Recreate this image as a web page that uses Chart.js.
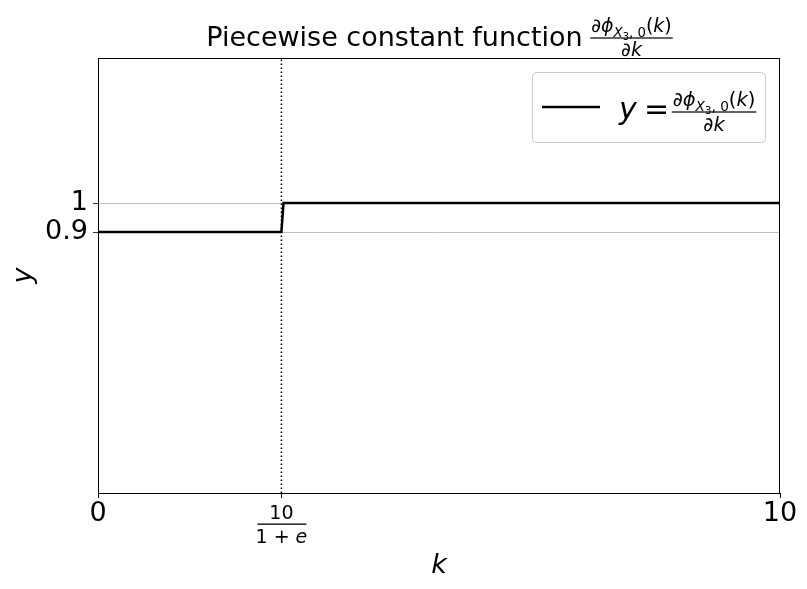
<!DOCTYPE html>
<html>
<head>
<meta charset="utf-8">
<script src="https://cdn.jsdelivr.net/npm/chart.js@4.4.0/dist/chart.umd.min.js"></script>
<style>
  html, body { margin: 0; padding: 0; background: #fff; }
  #wrap { width: 807px; height: 589px; }
</style>
</head>
<body>
<div id="wrap"><canvas id="c" width="807" height="589"></canvas></div>
<script>
// data
const kValues = [0, 2.689, 2.72, 10];
const yValues = [0.9, 0.9, 1, 1];
const kCut = 10 / (1 + Math.E);
const markerK = [kCut, kCut];
const markerY = [0, 1.5];
const xTicks = [0, kCut, 10];
const xTickLabels = ['0', '', '10'];
const yTicks = [0.9, 1];
const yTickLabels = ['0.9', '1'];

const FONT = 'DejaVu Sans';

// draws  ∂ϕ_{X3, 0}(k) / ∂k  centred at cx, with the bar at yBar
function drawDeriv(ctx, cx, yBar, size) {
  const sub = size * 0.7;
  ctx.save();
  ctx.fillStyle = '#000';
  ctx.textBaseline = 'alphabetic';
  ctx.textAlign = 'left';
  const partsNum = [
    { t: '\u2202', f: size + 'px "' + FONT + '"', dy: 0 },
    { t: '\u03D5', f: 'italic ' + size + 'px "' + FONT + '"', dy: 0 },
    { t: 'X', f: 'italic ' + sub + 'px "' + FONT + '"', dy: size * 0.25 },
    { t: '3', f: (sub * 0.75) + 'px "' + FONT + '"', dy: size * 0.4 },
    { t: ', 0', f: sub + 'px "' + FONT + '"', dy: size * 0.25 },
    { t: '(', f: size + 'px "' + FONT + '"', dy: 0 },
    { t: 'k', f: 'italic ' + size + 'px "' + FONT + '"', dy: 0 },
    { t: ')', f: size + 'px "' + FONT + '"', dy: 0 }
  ];
  let w = 0;
  partsNum.forEach(p => { ctx.font = p.f; p.w = ctx.measureText(p.t).width; w += p.w; });
  let x = cx - w / 2;
  const numBase = yBar - size * 0.3;
  partsNum.forEach(p => { ctx.font = p.f; ctx.fillText(p.t, x, numBase + p.dy); x += p.w; });
  ctx.fillRect(cx - w / 2 - 1, yBar - 0.6, w + 2, 1.2);
  // denominator
  ctx.font = size + 'px "' + FONT + '"';
  const wd1 = ctx.measureText('\u2202').width;
  ctx.font = 'italic ' + size + 'px "' + FONT + '"';
  const wd2 = ctx.measureText('k').width;
  const dx = cx - (wd1 + wd2) / 2;
  const denBase = yBar + size * 0.95;
  ctx.font = size + 'px "' + FONT + '"';
  ctx.fillText('\u2202', dx, denBase);
  ctx.font = 'italic ' + size + 'px "' + FONT + '"';
  ctx.fillText('k', dx + wd1, denBase);
  ctx.restore();
  return w;
}

function measureDeriv(ctx, size) {
  const sub = size * 0.7;
  let w = 0;
  [['\u2202', size + 'px'], ['\u03D5', 'italic ' + size + 'px'], ['X', 'italic ' + sub + 'px'],
   ['3', (sub * 0.75) + 'px'], [', 0', sub + 'px'], ['(', size + 'px'], ['k', 'italic ' + size + 'px'],
   [')', size + 'px']].forEach(p => { ctx.font = p[1] + ' "' + FONT + '"'; w += ctx.measureText(p[0]).width; });
  return w;
}

const decor = {
  id: 'decor',
  afterDraw(chart) {
    const ctx = chart.ctx;
    const a = chart.chartArea;
    ctx.save();
    // frame
    ctx.strokeStyle = '#000';
    ctx.lineWidth = 1;
    ctx.strokeRect(a.left + 0.5, a.top + 0.5, a.right - a.left - 1, a.bottom - a.top);

    // title
    ctx.fillStyle = '#000';
    ctx.font = '27px "' + FONT + '"';
    ctx.textBaseline = 'alphabetic';
    ctx.textAlign = 'left';
    const tt = 'Piecewise constant function ';
    const tw = ctx.measureText(tt).width;
    const fw = measureDeriv(ctx, 19);
    const tx = (a.left + a.right) / 2 - (tw + fw) / 2;
    ctx.font = '27px "' + FONT + '"';
    ctx.fillText(tt, tx, 46);
    drawDeriv(ctx, tx + tw + fw / 2, 38, 19);

    // axis labels
    ctx.font = 'italic 27px "' + FONT + '"';
    ctx.textAlign = 'center';
    ctx.fillText('k', (a.left + a.right) / 2, 573);
    ctx.save();
    ctx.translate(31, (a.top + a.bottom) / 2);
    ctx.rotate(-Math.PI / 2);
    ctx.fillText('y', 0, 0);
    ctx.restore();

    // fraction tick label 10/(1+e)
    const xs = chart.scales.x.getPixelForValue(kCut);
    ctx.font = '19px "' + FONT + '"';
    ctx.textAlign = 'center';
    ctx.fillText('10', xs, 519);
    ctx.fillRect(xs - 24, 523.5, 49, 1.3);
    ctx.textAlign = 'left';
    const p1 = '1 + ';
    ctx.font = '19px "' + FONT + '"';
    const w1 = ctx.measureText(p1).width;
    ctx.font = 'italic 19px "' + FONT + '"';
    const w2 = ctx.measureText('e').width;
    ctx.font = '19px "' + FONT + '"';
    ctx.fillText(p1, xs - (w1 + w2) / 2, 543);
    ctx.font = 'italic 19px "' + FONT + '"';
    ctx.fillText('e', xs - (w1 + w2) / 2 + w1, 543);

    // legend
    const lx = 532.5, ly = 72.5, lw = 233, lh = 70, r = 4;
    ctx.beginPath();
    ctx.moveTo(lx + r, ly);
    ctx.arcTo(lx + lw, ly, lx + lw, ly + lh, r);
    ctx.arcTo(lx + lw, ly + lh, lx, ly + lh, r);
    ctx.arcTo(lx, ly + lh, lx, ly, r);
    ctx.arcTo(lx, ly, lx + lw, ly, r);
    ctx.closePath();
    ctx.fillStyle = 'rgba(255,255,255,0.8)';
    ctx.fill();
    ctx.strokeStyle = '#cccccc';
    ctx.lineWidth = 1;
    ctx.stroke();
    ctx.beginPath();
    ctx.moveTo(542, 107);
    ctx.lineTo(600, 107);
    ctx.strokeStyle = '#000';
    ctx.lineWidth = 2.5;
    ctx.stroke();
    ctx.fillStyle = '#000';
    ctx.font = 'italic 30px "' + FONT + '"';
    ctx.textAlign = 'left';
    ctx.fillText('y', 619, 119);
    ctx.font = '30px "' + FONT + '"';
    ctx.fillText('=', 644, 119);
    drawDeriv(ctx, 714, 112, 19.5);
    ctx.restore();
  }
};

new Chart(document.getElementById('c'), {
  type: 'line',
  data: {
    datasets: [
      {
        label: 'y',
        data: kValues.map((k, i) => ({ x: k, y: yValues[i] })),
        borderColor: '#000',
        borderWidth: 2.5,
        pointRadius: 0,
        tension: 0,
        fill: false
      },
      {
        label: 'marker',
        data: markerK.map((k, i) => ({ x: k, y: markerY[i] })),
        borderColor: '#000',
        borderWidth: 1.5,
        borderDash: [1.5, 2.5],
        pointRadius: 0,
        fill: false
      }
    ]
  },
  options: {
    responsive: false,
    animation: false,
    devicePixelRatio: 1,
    layout: { padding: { left: 0, top: 58, right: 27, bottom: 0 } },
    plugins: {
      legend: { display: false },
      title: { display: false },
      tooltip: { enabled: false }
    },
    scales: {
      x: {
        type: 'linear',
        min: 0,
        max: 10,
        afterBuildTicks: axis => { axis.ticks = xTicks.map(v => ({ value: v })); },
        afterFit: axis => { axis.height = 589 - 493; },
        ticks: {
          color: '#000',
          font: { family: FONT, size: 27 },
          padding: 0,
          maxRotation: 0,
          autoSkip: false,
          callback: (v, i) => xTickLabels[i]
        },
        grid: { drawOnChartArea: false, tickColor: '#000', tickLength: 5 },
        border: { color: '#000' }
      },
      y: {
        type: 'linear',
        min: 0,
        max: 1.5,
        afterBuildTicks: axis => { axis.ticks = yTicks.map(v => ({ value: v })); },
        afterFit: axis => { axis.width = 98; },
        ticks: {
          color: '#000',
          font: { family: FONT, size: 27 },
          padding: 5,
          autoSkip: false,
          callback: (v, i) => yTickLabels[i]
        },
        grid: { color: '#b0b0b0', lineWidth: 0.8, tickColor: '#000', tickLength: 5 },
        border: { color: '#000' }
      }
    }
  },
  plugins: [decor]
});
</script>
</body>
</html>
